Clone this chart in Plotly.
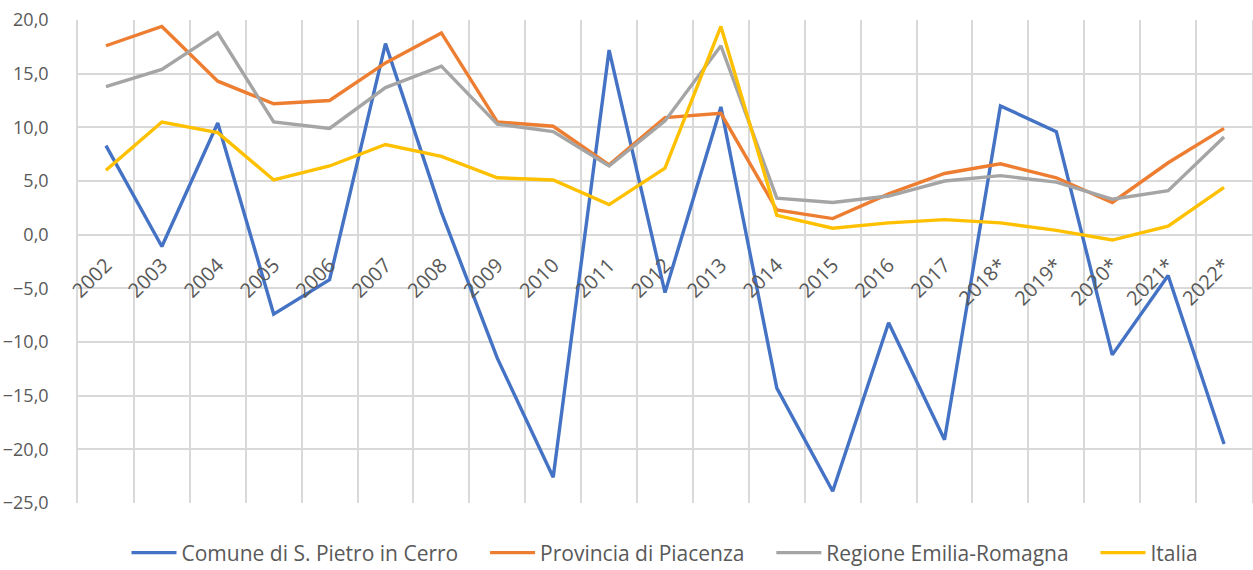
import plotly.graph_objects as go

years = ["2002", "2003", "2004", "2005", "2006", "2007", "2008", "2009", "2010", "2011",
         "2012", "2013", "2014", "2015", "2016", "2017", "2018*", "2019*", "2020*", "2021*", "2022*"]

comune = [8.3, -1.1, 10.4, -7.4, -4.2, 17.8, 2.1, -11.5, -22.6, 17.2,
          -5.4, 11.9, -14.3, -23.9, -8.2, -19.1, 12.0, 9.6, -11.2, -3.8, -19.5]
provincia = [17.6, 19.4, 14.3, 12.2, 12.5, 16.0, 18.8, 10.5, 10.1, 6.5,
             10.9, 11.3, 2.3, 1.5, 3.8, 5.7, 6.6, 5.3, 3.0, 6.7, 9.9]
regione = [13.8, 15.4, 18.8, 10.5, 9.9, 13.7, 15.7, 10.3, 9.6, 6.4,
           10.6, 17.6, 3.4, 3.0, 3.6, 5.0, 5.5, 4.9, 3.3, 4.1, 9.1]
italia = [6.0, 10.5, 9.5, 5.1, 6.4, 8.4, 7.3, 5.3, 5.1, 2.8,
          6.2, 19.4, 1.8, 0.6, 1.1, 1.4, 1.1, 0.4, -0.5, 0.8, 4.4]

series = [
    ("Comune di S. Pietro in Cerro", comune, "#4472C4"),
    ("Provincia di Piacenza", provincia, "#ED7D31"),
    ("Regione Emilia-Romagna", regione, "#A5A5A5"),
    ("Italia", italia, "#FFC000"),
]

pad = "\u00a0" * 4
fig = go.Figure()
for i, (name, vals, col) in enumerate(series):
    label = name + (pad if i < len(series) - 1 else "")
    fig.add_trace(go.Scatter(x=years, y=vals, mode="lines", name=label,
                             line=dict(color=col, width=3.4)))

ymin, ymax = -25, 20
fig.update_layout(
    width=1253, height=570,
    margin=dict(l=78, r=1, t=20, b=67, autoexpand=False),
    paper_bgcolor="white", plot_bgcolor="white",
    separators=",.",
    font=dict(family="Open Sans, Noto Sans, sans-serif", color="#595959"),
    showlegend=True,
    legend=dict(orientation="h", x=0.5, xanchor="center", y=-0.1035, yanchor="middle",
                font=dict(size=21, color="#595959"), itemwidth=45, traceorder="normal"),
    xaxis=dict(type="category", range=[-0.5, 20.5], tickson="boundaries",
               showgrid=True, gridcolor="#D9D9D9", gridwidth=1.6,
               anchor="free", position=(0 - ymin) / (ymax - ymin),
               showline=False, ticks="", tickangle=-45, automargin=False,
               ticklabelstandoff=14,
               tickfont=dict(size=20, color="#595959"), zeroline=False),
    yaxis=dict(range=[ymin, ymax], dtick=5, tickformat=".1f",
               showgrid=True, gridcolor="#D9D9D9", gridwidth=1.6,
               zeroline=False, showline=True, linecolor="#D9D9D9", linewidth=1.6, mirror=True,
               ticks="", ticklabelstandoff=24, automargin=False,
               tickfont=dict(size=18, color="#595959")),
)

fig.write_html("out.html", config={"displayModeBar": False},
               post_script="document.body.style.margin='0px';")
